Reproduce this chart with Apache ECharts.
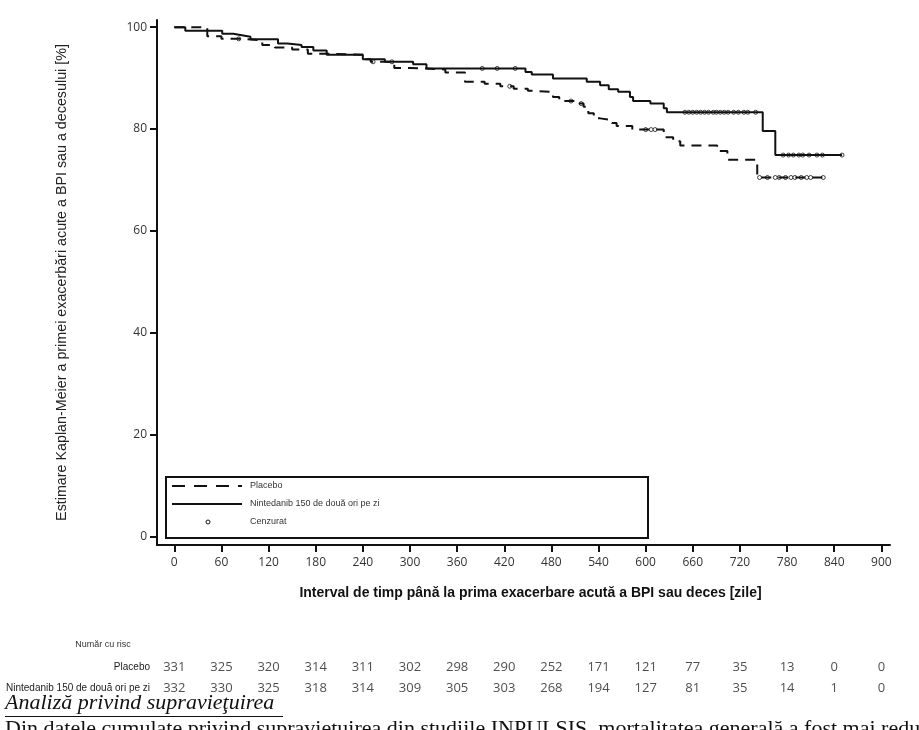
<!DOCTYPE html>
<html>
<head>
<meta charset="utf-8">
<script src="https://cdn.jsdelivr.net/npm/echarts@6/dist/echarts.min.js"></script>
<style>
  html, body { margin: 0; padding: 0; background: #fff; }
  #chartKM { width: 919px; height: 730px; }
</style>
</head>
<body>
<div id="chartKM"></div>
<script>
// curbe Kaplan-Meier (zile, % fara eveniment)
const placeboTime = [0, 42, 60, 84, 112, 128, 150, 170, 190, 242, 250, 280, 300, 345, 370, 395, 415, 432, 450, 458, 482, 490, 512, 521, 527, 534, 542, 557, 563, 583, 623, 635, 644, 691, 704, 742, 826];
const placeboSurv = [100, 98.2, 97.7, 97.4, 96.5, 96.0, 95.6, 94.8, 94.6, 93.7, 93.2, 92.0, 91.7, 91.1, 89.3, 88.9, 88.4, 87.9, 87.5, 87.3, 86.3, 85.5, 85.0, 84.4, 83.1, 82.1, 81.8, 81.2, 80.6, 79.9, 78.4, 77.6, 76.8, 75.7, 74.0, 70.5, 70.5];
const ninTime = [0, 14, 61, 75, 86, 97, 132, 144, 162, 177, 194, 240, 268, 304, 321, 447, 455, 482, 525, 542, 553, 565, 580, 584, 606, 623, 627, 749, 765, 850];
const ninSurv = [100, 99.3, 98.7, 98.4, 98.1, 97.6, 96.8, 96.5, 96.1, 95.4, 94.6, 93.7, 93.2, 92.7, 91.9, 91.2, 90.7, 89.9, 89.3, 88.6, 87.8, 87.3, 86.3, 85.5, 85.0, 84.1, 83.3, 79.6, 74.9, 74.9];

// momente cenzurate
const placeboCensor = [82, 253, 277, 427, 505, 518, 600, 607, 612, 745, 755, 765, 770, 778, 785, 790, 798, 805, 810, 826];
const ninCensor = [392, 411, 434, 650, 655, 660, 665, 670, 675, 680, 686, 690, 695, 700, 705, 712, 718, 725, 730, 740, 775, 782, 788, 795, 800, 808, 818, 825, 850];

const xTicks = [0, 60, 120, 180, 240, 300, 360, 420, 480, 540, 600, 660, 720, 780, 840, 900];
const yTicks = [0, 20, 40, 60, 80, 100];

// numar cu risc
const riskRows = ['Placebo', 'Nintedanib 150 de două ori pe zi'];
const riskPlacebo = [331, 325, 320, 314, 311, 302, 298, 290, 252, 171, 121, 77, 35, 13, 0, 0];
const riskNin = [332, 330, 325, 318, 314, 309, 305, 303, 268, 194, 127, 81, 35, 14, 1, 0];

function survAt(ts, ss, t) {
  let s = ss[0];
  for (let i = 0; i < ts.length; i++) {
    if (ts[i] <= t) s = ss[i];
  }
  return s;
}
function zip(a, b) { return a.map((v, i) => [v, b[i]]); }

const ink = '#111';
const tickFont = '"Open Sans", sans-serif';
const sansFont = '"Liberation Sans", Arial, sans-serif';

function riskSeries(counts, row) {
  return {
    type: 'scatter', xAxisIndex: 1, yAxisIndex: 1, symbolSize: 1,
    itemStyle: { color: 'rgba(0,0,0,0)' },
    label: {
      show: true, position: 'inside', formatter: p => String(p.value[2]),
      fontSize: 13, color: '#222', fontFamily: tickFont
    },
    data: xTicks.map((t, i) => [t, row, counts[i]])
  };
}

let myChart = echarts.init(document.getElementById('chartKM'));
myChart.setOption({
  animation: false,
  backgroundColor: '#fff',
  grid: [
    { left: 157, right: 29, top: 20, bottom: 185 },
    { left: 157, right: 29, top: 657, height: 42 }
  ],
  xAxis: [
    {
      type: 'value', gridIndex: 0, min: -22, max: 911,
      axisLine: { onZero: false, lineStyle: { color: ink, width: 2 } },
      axisTick: { customValues: xTicks, length: 7, lineStyle: { color: ink, width: 2 } },
      axisLabel: { customValues: xTicks, fontSize: 12, color: '#333', margin: 12, fontFamily: tickFont },
      splitLine: { show: false },
      name: 'Interval de timp până la prima exacerbare acută a BPI sau deces [zile]',
      nameLocation: 'middle', nameGap: 41,
      nameTextStyle: { fontSize: 14, fontWeight: 'bold', color: ink, fontFamily: sansFont, padding: [0, 0, 0, 14] }
    },
    {
      type: 'value', gridIndex: 1, min: -22, max: 911, show: false
    }
  ],
  yAxis: [
    {
      type: 'value', gridIndex: 0, min: -1.6, max: 101.4,
      axisLine: { show: true, onZero: false, lineStyle: { color: ink, width: 2 } },
      axisTick: { show: true, customValues: yTicks, length: 7, lineStyle: { color: ink, width: 2 } },
      axisLabel: { customValues: yTicks, fontSize: 12, color: '#333', margin: 10, fontFamily: tickFont },
      splitLine: { show: false },
      name: 'Estimare Kaplan-Meier a primei exacerbări acute a BPI sau a decesului [%]',
      nameLocation: 'middle', nameGap: 88, nameRotate: 90,
      nameTextStyle: { fontSize: 14.3, color: '#222', fontFamily: sansFont }
    },
    {
      type: 'category', gridIndex: 1, data: riskRows, inverse: true,
      axisLine: { show: false }, axisTick: { show: false },
      axisLabel: { fontSize: 10, color: '#222', margin: 7, fontFamily: sansFont }
    }
  ],
  graphic: [
    { type: 'rect', shape: { x: 166, y: 477, width: 482, height: 61 }, style: { fill: '#fff', stroke: ink, lineWidth: 2 } },
    { type: 'line', shape: { x1: 172, y1: 486, x2: 242, y2: 486 }, style: { stroke: ink, lineWidth: 2, lineDash: [13, 9] } },
    { type: 'text', x: 250, y: 486, style: { text: 'Placebo', fontSize: 9, fill: '#333', verticalAlign: 'middle', fontFamily: sansFont } },
    { type: 'line', shape: { x1: 172, y1: 504, x2: 242, y2: 504 }, style: { stroke: ink, lineWidth: 2 } },
    { type: 'text', x: 250, y: 504, style: { text: 'Nintedanib 150 de două ori pe zi', fontSize: 9, fill: '#333', verticalAlign: 'middle', fontFamily: sansFont } },
    { type: 'circle', shape: { cx: 208, cy: 522, r: 2 }, style: { fill: '#fff', stroke: ink, lineWidth: 1 } },
    { type: 'text', x: 250, y: 522, style: { text: 'Cenzurat', fontSize: 9, fill: '#333', verticalAlign: 'middle', fontFamily: sansFont } },
    { type: 'text', x: 103, y: 645, style: { text: 'Număr cu risc', fontSize: 9, fill: '#333', align: 'center', verticalAlign: 'middle', fontFamily: sansFont } },
    { type: 'text', x: 5, y: 714, style: { text: 'Analiză privind supravieţuirea', font: 'italic 22px "Liberation Serif", serif', fill: '#111', verticalAlign: 'bottom' } },
    { type: 'line', shape: { x1: 5, y1: 716.5, x2: 283, y2: 716.5 }, style: { stroke: '#111', lineWidth: 1 } },
    { type: 'text', x: 5, y: 718, style: { text: 'Din datele cumulate privind supravieţuirea din studiile INPULSIS, mortalitatea generală a fost mai redusă la pacienţii trataţi', font: '22px "Liberation Serif", serif', fill: '#111', verticalAlign: 'top' } }
  ],
  series: [
    {
      name: 'Placebo', type: 'line', step: 'end', xAxisIndex: 0, yAxisIndex: 0,
      data: zip(placeboTime, placeboSurv), symbol: 'none',
      lineStyle: { color: ink, width: 2, type: [10, 7] }
    },
    {
      name: 'Nintedanib 150 de două ori pe zi', type: 'line', step: 'end', xAxisIndex: 0, yAxisIndex: 0,
      data: zip(ninTime, ninSurv), symbol: 'none',
      lineStyle: { color: ink, width: 2 }
    },
    {
      name: 'Cenzurat placebo', type: 'scatter', xAxisIndex: 0, yAxisIndex: 0,
      data: placeboCensor.map(t => [t, survAt(placeboTime, placeboSurv, t)]),
      symbol: 'circle', symbolSize: 4,
      itemStyle: { color: '#fff', borderColor: ink, borderWidth: 1 }
    },
    {
      name: 'Cenzurat nintedanib', type: 'scatter', xAxisIndex: 0, yAxisIndex: 0,
      data: ninCensor.map(t => [t, survAt(ninTime, ninSurv, t)]),
      symbol: 'circle', symbolSize: 4,
      itemStyle: { color: '#fff', borderColor: ink, borderWidth: 1 }
    },
    riskSeries(riskPlacebo, riskRows[0]),
    riskSeries(riskNin, riskRows[1])
  ]
});
</script>
</body>
</html>
